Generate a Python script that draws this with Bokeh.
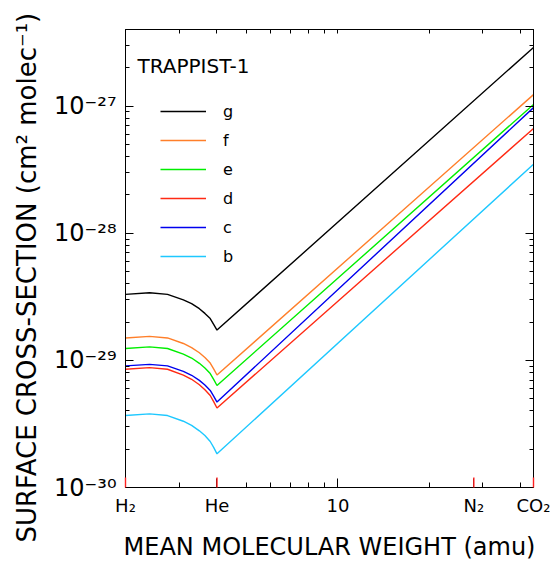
import math
from bokeh.plotting import figure
from bokeh.models import FixedTicker, LogAxis, Label, Legend, LegendItem, Title
from bokeh.embed import file_html
from bokeh.resources import INLINE

# ---------------- data ----------------
mmw = [2.0, 2.4, 2.75, 3.1, 3.3, 3.5, 3.65, 3.8, 3.9, 4.0, 44.0]   # mean molecular weight (amu)
planets = ["g", "f", "e", "d", "c", "b"]
sigma_g = [3.30e-29, 3.40e-29, 3.30e-29, 2.99e-29, 2.79e-29, 2.55e-29, 2.34e-29, 2.13e-29, 1.92e-29, 1.73e-29, 2.89e-27]
sigma_f = [1.50e-29, 1.545e-29, 1.50e-29, 1.357e-29, 1.261e-29, 1.147e-29, 1.053e-29, 9.52e-30, 8.57e-30, 7.67e-30, 1.23e-27]
sigma_e = [1.24e-29, 1.276e-29, 1.24e-29, 1.121e-29, 1.043e-29, 9.48e-30, 8.70e-30, 7.87e-30, 7.09e-30, 6.34e-30, 1.03e-27]
sigma_d = [8.51e-30, 8.76e-30, 8.51e-30, 7.66e-30, 7.10e-30, 6.43e-30, 5.88e-30, 5.29e-30, 4.74e-30, 4.22e-30, 6.66e-28]
sigma_c = [9.04e-30, 9.30e-30, 9.04e-30, 8.19e-30, 7.63e-30, 6.96e-30, 6.40e-30, 5.80e-30, 5.24e-30, 4.70e-30, 9.72e-28]
sigma_b = [3.68e-30, 3.79e-30, 3.68e-30, 3.32e-30, 3.08e-30, 2.79e-30, 2.56e-30, 2.30e-30, 2.07e-30, 1.84e-30, 3.49e-28]
series = {"g": sigma_g, "f": sigma_f, "e": sigma_e, "d": sigma_d, "c": sigma_c, "b": sigma_b}
colors = {"g": "#000000", "f": "#ff7f2a", "e": "#00ee00", "d": "#ff2a14", "c": "#0000ee", "b": "#1ec8ff"}

gas_ticks = [2, 4, 28, 44]
x_label_ticks = [2, 4, 10, 28, 44]
x_labels = ["H\u2082", "He", "10", "N\u2082", "CO\u2082"]
x_minor = [3, 4, 5, 6, 7, 8, 9, 10, 20, 30, 40]
y_major = [1e-30, 1e-29, 1e-28, 1e-27]
y_major_labels = ["10\u207b\u00b3\u2070", "10\u207b\u00b2\u2079", "10\u207b\u00b2\u2078", "10\u207b\u00b2\u2077"]
y_minor = [m * 10.0 ** e for e in range(-30, -26) for m in range(2, 10)]

X_MIN, X_MAX = 2, 44
Y_MIN, Y_MAX = 1e-30, 4e-27
FONT = "DejaVu Sans"

p = figure(width=553, height=563, x_axis_type="log", y_axis_type="log",
           x_range=(X_MIN, X_MAX), y_range=(Y_MIN, Y_MAX),
           output_backend="svg", toolbar_location=None,
           min_border_left=125, min_border_right=20, min_border_top=29, min_border_bottom=73)
p.grid.visible = False
p.outline_line_color = "black"
p.outline_line_width = 1
p.background_fill_color = "white"
p.border_fill_color = "white"

# bottom axis: labelled ticks (black), minor ticks; red gas ticks drawn on top
xb = p.xaxis[0]
xb.ticker = FixedTicker(ticks=x_label_ticks, minor_ticks=x_minor)
xb.major_label_overrides = {t: l for t, l in zip(x_label_ticks, x_labels)}
xb.major_tick_in = 9
xb.major_tick_out = 0
xb.major_tick_line_color = "black"
xb.minor_tick_in = 5
xb.minor_tick_out = 0
xb.minor_tick_line_color = "black"
xb.major_label_text_font = FONT
xb.major_label_text_font_size = "18px"
xb.major_label_text_color = "black"
xb.major_label_standoff = 7
xb.axis_line_color = "black"
xb.axis_label = "MEAN MOLECULAR WEIGHT (amu)"
xb.axis_label_text_font = FONT
xb.axis_label_text_font_size = "24px"
xb.axis_label_text_font_style = "normal"
xb.axis_label_text_color = "black"
xb.axis_label_standoff = 14

# left axis
yl = p.yaxis[0]
yl.ticker = FixedTicker(ticks=y_major, minor_ticks=y_minor)
yl.major_label_overrides = {t: l for t, l in zip(y_major, y_major_labels)}
yl.major_tick_in = 8
yl.major_tick_out = 0
yl.minor_tick_in = 4
yl.minor_tick_out = 0
yl.major_label_text_font = FONT
yl.major_label_text_font_size = "24px"
yl.major_label_text_color = "black"
yl.major_label_standoff = 9
yl.axis_line_color = "black"

# top axis (ticks only)
xt = LogAxis(ticker=FixedTicker(ticks=[], minor_ticks=x_minor),
             minor_tick_in=4, minor_tick_out=0, major_tick_in=0, major_tick_out=0,
             axis_line_color="black", minor_tick_line_color="black")
p.add_layout(xt, "above")

# right axis (ticks only)
yr = LogAxis(ticker=FixedTicker(ticks=y_major, minor_ticks=y_minor),
             major_tick_in=8, major_tick_out=0, minor_tick_in=4, minor_tick_out=0,
             major_label_overrides={t: "" for t in y_major},
             axis_line_color="black")
p.add_layout(yr, "right")

# y-axis title
ytitle = Title(text="SURFACE CROSS-SECTION (cm\u00b2 molec\u207b\u00b9)", align="left",
               offset=-55, standoff=19, text_font=FONT, text_font_size="26px",
               text_font_style="normal", text_color="black")
p.add_layout(ytitle, "left")

# curves
items = []
for name in planets:
    r = p.line(mmw, series[name], line_color=colors[name], line_width=1.4)
    items.append(LegendItem(label=name, renderers=[r]))

# red gas-marker ticks on the bottom axis
rt = p.ray(x=gas_ticks, y=[Y_MIN] * len(gas_ticks), length=10, length_units="screen",
           angle=math.pi / 2, line_color="#ff2020", line_width=1.4)
rt.level = "overlay"

legend = Legend(items=items, location=(35, 221), padding=0, spacing=9,
                glyph_width=46, glyph_height=20, label_height=20,
                label_standoff=17, label_text_font=FONT, label_text_font_size="16px",
                label_text_color="black",
                border_line_color=None, background_fill_alpha=0)
p.add_layout(legend)

p.add_layout(Label(x=X_MIN, y=Y_MAX, x_offset=12, y_offset=-36, text="TRAPPIST-1",
                   text_font=FONT, text_font_size="20px", text_baseline="alphabetic",
                   text_color="black"))

open("out.html", "w").write(file_html(p, INLINE))
